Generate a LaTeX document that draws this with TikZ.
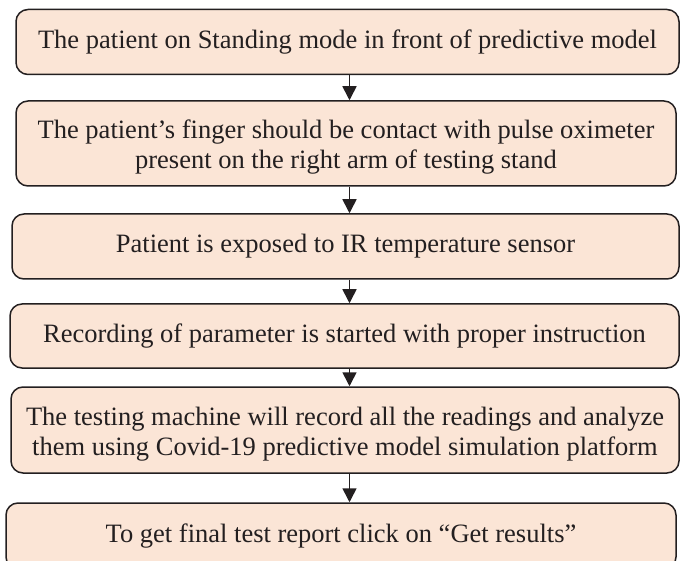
\documentclass[tikz,border=0pt]{standalone}
\usepackage{fontspec}
\setmainfont{Liberation Serif}
\usetikzlibrary{arrows.meta, positioning}
\definecolor{boxfill}{RGB}{251,229,214}
\definecolor{boxline}{RGB}{35,31,32}

\tikzset{
    stepbox/.style={draw=boxline, line width=1.5pt, fill=boxfill, rounded corners=12pt,
        align=center, text=boxline, inner sep=0pt,
        font=\fontsize{26.5}{30}\selectfont},
    twoline/.style={text height=55pt, text depth=4pt},
    flow/.style={boxline, line width=1.6pt, -{Triangle[length=14pt,width=14pt]}}
}

\begin{document}
\begin{tikzpicture}[x=1pt, y=-1pt]
            \useasboundingbox (0,0) rectangle (680,561);
            \node[stepbox, minimum width=663pt, minimum height=65pt] (b1) at (347.5,42)
                {The patient on Standing mode in front of predictive model};
            \node[stepbox, twoline, minimum width=660pt, minimum height=85pt] (b2) at (346,143.5)
                {The patient's finger should be contact with pulse oximeter\\present on the right arm of testing stand};
            \node[stepbox, minimum width=667pt, minimum height=65pt] (b3) at (345.5,246.5)
                {Patient is exposed to IR temperature sensor};
            \node[stepbox, minimum width=669pt, minimum height=64pt] (b4) at (344.5,336)
                {Recording of parameter is started with proper instruction};
            \node[stepbox, twoline, minimum width=668pt, minimum height=86pt] (b5) at (345,430)
                {The testing machine will record all the readings and analyze\\them using Covid-19 predictive model simulation platform};
            \node[stepbox, minimum width=670pt, minimum height=66pt] (b6) at (341,536)
                {To get final test report click on ``Get results''};
            % arrows all run down the same vertical line
            \coordinate (ax) at (349.5,0);
            \foreach \a/\b in {b1/b2, b2/b3, b3/b4, b4/b5, b5/b6}
                \draw[flow] (\a.south -| ax) -- (\b.north -| ax);
\end{tikzpicture}
\end{document}
